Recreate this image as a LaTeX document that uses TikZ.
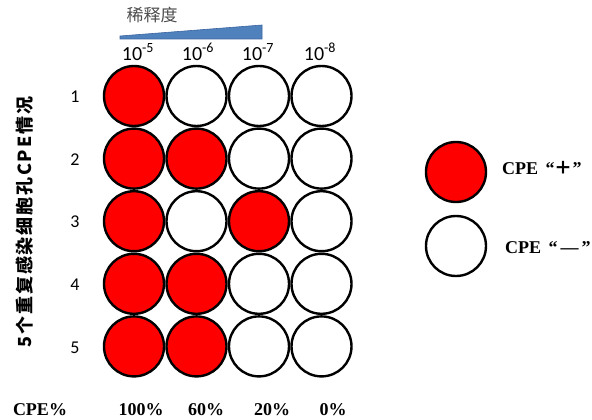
\documentclass[tikz,border=0pt]{standalone}
\usepackage{fontspec}
\setmainfont{Liberation Serif}
\newfontfamily\cjk{Noto Sans CJK SC}
\newfontfamily\cjkwide{Noto Sans CJK SC}[LetterSpace=10]
\newfontfamily\calib{Carlito}
\usetikzlibrary{positioning}
\definecolor{posred}{HTML}{FF0000}
\definecolor{wedgeblue}{HTML}{4F81BD}
\definecolor{wedgeedge}{HTML}{3A64A0}

\begin{document}
\begin{tikzpicture}[x=1pt, y=-1pt,
    well/.style={circle, draw=black, line width=2.4pt, minimum size=60pt, inner sep=0pt},
    dil/.style={font=\calib\fontsize{20}{24}\selectfont, inner sep=0pt},
    rep/.style={font=\calib\fontsize{18}{21}\selectfont, inner sep=0pt},
    pct/.style={font=\bfseries\fontsize{18}{21}\selectfont, inner sep=0pt}
]
\useasboundingbox (0,0) rectangle (592,420);
% Dilution header
\node[font=\cjk\fontsize{17}{20}\selectfont, text=black!70] (dilttl) at (152,15) {稀释度};
\fill[wedgeblue, draw=wedgeedge, line width=0.6pt] (120,39) -- (120,36) -- (262,25) -- (262,39) -- cycle;
\node[dil] (d5) at (138,52) {10\textsuperscript{-5}};
\node[dil] (d6) at (198,52) {10\textsuperscript{-6}};
\node[dil] (d7) at (258,52) {10\textsuperscript{-7}};
\node[dil] (d8) at (320,52) {10\textsuperscript{-8}};
% Wells
\foreach \r/\ca/\cb/\cc/\cd in {1/posred/white/white/white, 2/posred/posred/white/white,
    3/posred/white/posred/white, 4/posred/posred/white/white, 5/posred/posred/white/white} {
    \node[well, fill=\ca] (w\r-1) at ({134}, {96+62.6*(\r-1)}) {};
    \node[well, fill=\cb] (w\r-2) at ({196.5}, {96+62.6*(\r-1)}) {};
    \node[well, fill=\cc] (w\r-3) at ({259}, {96+62.6*(\r-1)}) {};
    \node[well, fill=\cd] (w\r-4) at ({321.5}, {96+62.6*(\r-1)}) {};
    \node[rep] (rep\r) at ({75}, {97+62.6*(\r-1)}) {\r};
}
% Replicate axis
\node[rotate=90, font=\cjkwide\bfseries\fontsize{18}{20}\selectfont] (ylab) at (25,222) {5个重复感染细胞孔CPE情况};
% CPE percentages
\node[pct] (pcttl) at (40,410) {CPE\%};
\node[pct] (p5) at (141,410) {100\%};
\node[pct] (p6) at (206,410) {60\%};
\node[pct] (p7) at (272,410) {20\%};
\node[pct] (p8) at (333,410) {0\%};
% Legend
\node[well, fill=posred] (legpos) at (456,172) {};
\node[well, fill=white] (legneg) at (456,246) {};
\node[pct, anchor=west] (legpostxt) at (502,168) {CPE \,“{\cjk ＋}”};
\node[pct, anchor=west] (legnegtxt) at (505,248) {CPE \,“\,—\,”};
\end{tikzpicture}
\end{document}
